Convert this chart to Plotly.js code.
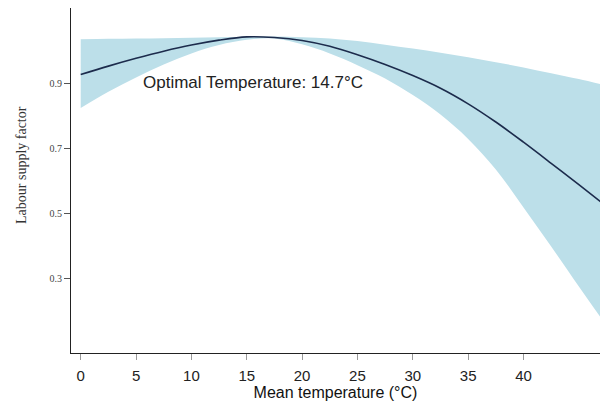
<!DOCTYPE html>
<html>
<head>
<meta charset="utf-8">
<script src="https://cdn.plot.ly/plotly-3.0.1.min.js"></script>
<style>html,body{margin:0;padding:0;background:#fff;}#chart{width:600px;height:402px;}</style>
</head>
<body>
<div id="chart"></div>
<script>
// Mean temperature (°C)
var temperature = [0, 2.5, 5, 7.5, 10, 12.5, 15, 17.5, 20, 22.5, 25, 27.5, 30, 32.5, 35, 37.5, 40, 42.5, 45, 47];
// Central estimate of labour supply factor
var estimate = [0.929, 0.955, 0.979, 1.001, 1.020, 1.035, 1.045, 1.043, 1.034, 1.016, 0.990, 0.960, 0.926, 0.887, 0.839, 0.783, 0.721, 0.656, 0.590, 0.537];
// Confidence band
var upperBound = [1.038, 1.039, 1.040, 1.041, 1.042, 1.044, 1.045, 1.046, 1.044, 1.040, 1.032, 1.021, 1.009, 0.996, 0.982, 0.967, 0.951, 0.933, 0.915, 0.899];
var lowerBound = [0.826, 0.876, 0.920, 0.960, 0.994, 1.020, 1.036, 1.040, 1.022, 0.994, 0.958, 0.917, 0.866, 0.806, 0.731, 0.637, 0.520, 0.400, 0.277, 0.180];
var xTicks = [0, 5, 10, 15, 20, 25, 30, 35, 40];
var yTicks = [0.3, 0.5, 0.7, 0.9];
var yTickText = ["0.3", "0.5", "0.7", "0.9"];
var optimalLabel = "Optimal Temperature: 14.7°C";

var bandColor = "rgb(188,223,233)";
var traces = [
  {x: temperature, y: upperBound, type: "scatter", mode: "lines",
   line: {width: 0, shape: "spline", color: bandColor}, hoverinfo: "skip", showlegend: false},
  {x: temperature, y: lowerBound, type: "scatter", mode: "lines", fill: "tonexty",
   fillcolor: bandColor, line: {width: 0, shape: "spline", color: bandColor}, hoverinfo: "skip", showlegend: false},
  {x: temperature, y: estimate, type: "scatter", mode: "lines",
   line: {width: 1.6, shape: "spline", color: "#1c2b4c"}, showlegend: false}
];

var layout = {
  width: 600, height: 402,
  margin: {l: 71, r: 0, t: 8, b: 49},
  paper_bgcolor: "#fff", plot_bgcolor: "#fff",
  showlegend: false,
  xaxis: {
    range: [-0.876, 46.91], tickvals: xTicks, ticktext: xTicks.map(String),
    showgrid: false, zeroline: false, showline: true, linecolor: "#222", linewidth: 1,
    ticks: "outside", ticklen: 6, tickcolor: "#999", tickwidth: 1, ticklabelstandoff: 3,
    tickfont: {family: "Liberation Sans, Arial, sans-serif", size: 15, color: "#222"},
    title: {text: "Mean temperature (°C)", standoff: 1,
      font: {family: "Liberation Sans, Arial, sans-serif", size: 16, color: "#111"}}
  },
  yaxis: {
    range: [0.0723, 1.1338], tickvals: yTicks, ticktext: yTickText,
    showgrid: false, zeroline: false, showline: true, linecolor: "#222", linewidth: 1,
    ticks: "outside", ticklen: 6, tickcolor: "#555", tickwidth: 1,
    tickfont: {family: "Liberation Serif, Times New Roman, serif", size: 10, color: "#444"}
  },
  annotations: [
    {xref: "paper", yref: "paper", x: 0.344, y: 0.783, xanchor: "center", yanchor: "middle",
     text: optimalLabel, showarrow: false,
     font: {family: "Liberation Sans, Arial, sans-serif", size: 17, color: "#222"}},
    {xref: "paper", yref: "paper", x: -0.0926, y: 0.545, xanchor: "center", yanchor: "middle",
     text: "Labour supply factor", textangle: -90, showarrow: false,
     font: {family: "Liberation Serif, Times New Roman, serif", size: 14, color: "#333"}}
  ]
};

Plotly.newPlot("chart", traces, layout, {displayModeBar: false, staticPlot: true});
</script>
</body>
</html>
